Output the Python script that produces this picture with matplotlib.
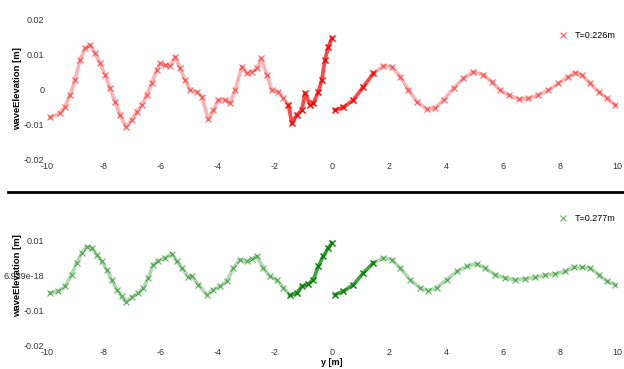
import matplotlib.pyplot as plt
import numpy as np
from matplotlib.lines import Line2D

plt.rcParams['font.family'] = ['Liberation Sans', 'DejaVu Sans']

# top panel, T=0.226m (left of x=0 and right of x=0)
top_lx = [-9.89, -9.54, -9.37, -9.19, -9.02, -8.84, -8.67, -8.49, -8.32, -8.14, -7.96, -7.79,
          -7.61, -7.44, -7.23, -7.03, -6.85, -6.68, -6.5, -6.33, -6.15, -6.04, -5.86, -5.68,
          -5.51, -5.33, -5.16, -4.98, -4.75, -4.57, -4.34, -4.16, -3.99, -3.75, -3.58, -3.4,
          -3.17, -3.0, -2.82, -2.64, -2.49, -2.29, -2.12, -1.88, -1.71, -1.53, -1.41, -1.24,
          -1.06, -0.95, -0.77, -0.66, -0.48, -0.36, -0.25, -0.13, -0.01]
top_ly = [-0.0081, -0.0069, -0.0051, -0.0017, 0.0026, 0.0083, 0.0116, 0.0126, 0.0102, 0.0073,
          0.004, 0.0002, -0.0036, -0.0074, -0.0108, -0.0089, -0.0065, -0.0046, -0.0017, 0.0016,
          0.0054, 0.0073, 0.0069, 0.0066, 0.0092, 0.0059, 0.0026, -0.0003, -0.0008, -0.0022,
          -0.0087, -0.006, -0.0031, -0.0031, -0.0041, -0.0003, 0.0064, 0.0045, 0.0049, 0.0059,
          0.0088, 0.004, -0.0003, -0.0008, -0.0027, -0.0046, -0.0098, -0.0074, -0.006, -0.0012,
          -0.0046, -0.0041, -0.0008, 0.0026, 0.0083, 0.0121, 0.0145]
top_rx = [0.1, 0.4, 0.75, 1.1, 1.45, 1.8, 2.09, 2.39, 2.68, 2.97, 3.32, 3.61, 3.91, 4.26, 4.61,
          4.96, 5.31, 5.6, 5.89, 6.19, 6.54, 6.89, 7.24, 7.59, 7.94, 8.29, 8.53, 8.76, 9.05,
          9.35, 9.64, 9.93]
top_ry = [-0.006, -0.0052, -0.0031, 0.0007, 0.0045, 0.0066, 0.0064, 0.0035, -0.0003, -0.0036,
          -0.0058, -0.0055, -0.0031, 0.0002, 0.0031, 0.0049, 0.004, 0.0021, -0.0003, -0.0017,
          -0.0029, -0.0027, -0.0017, -0.0003, 0.0016, 0.0035, 0.0047, 0.004, 0.0016, -0.0008,
          -0.0027, -0.0046]

# bottom panel, T=0.277m
bot_lx = [-9.89, -9.6, -9.37, -9.14, -8.96, -8.78, -8.61, -8.43, -8.26, -8.08, -7.9, -7.73,
          -7.55, -7.38, -7.23, -7.03, -6.8, -6.62, -6.45, -6.27, -6.09, -5.86, -5.63, -5.45,
          -5.27, -5.04, -4.92, -4.69, -4.4, -4.16, -3.93, -3.69, -3.46, -3.23, -2.99, -2.82,
          -2.64, -2.41, -2.18, -1.94, -1.71, -1.47, -1.24, -1.06, -0.83, -0.66, -0.48, -0.31,
          -0.13, -0.01]
bot_ly = [-0.005, -0.0045, -0.0031, 0.0003, 0.0037, 0.0065, 0.0084, 0.008, 0.006, 0.0041,
          0.0017, -0.0012, -0.004, -0.006, -0.0076, -0.0062, -0.005, -0.0036, -0.0007, 0.0032,
          0.0043, 0.0051, 0.0063, 0.0041, 0.0022, -0.0004, -0.0002, -0.0026, -0.0055, -0.004,
          -0.0031, -0.0016, 0.0022, 0.0046, 0.0041, 0.0048, 0.0056, 0.0022, -0.0002, -0.0012,
          -0.0035, -0.0057, -0.005, -0.0031, -0.0024, -0.0012, 0.0027, 0.0056, 0.008, 0.0094]
bot_rx = [0.1, 0.4, 0.75, 1.1, 1.45, 1.8, 2.09, 2.39, 2.74, 3.09, 3.38, 3.67, 4.02, 4.38, 4.73,
          5.08, 5.37, 5.72, 6.07, 6.42, 6.77, 7.12, 7.47, 7.82, 8.18, 8.47, 8.76, 9.05, 9.35,
          9.64, 9.93]
bot_ry = [-0.0055, -0.0045, -0.0026, 0.0008, 0.0037, 0.0051, 0.0046, 0.0022, -0.0012, -0.0035,
          -0.0043, -0.0035, -0.0012, 0.0012, 0.0027, 0.0034, 0.0022, 0.0003, -0.0007, -0.0012,
          -0.0009, -0.0005, 0.0001, 0.0005, 0.0012, 0.0024, 0.0024, 0.0022, 0.0003, -0.0016,
          -0.0026]

xticks = [-10, -8, -6, -4, -2, 0, 2, 4, 6, 8, 10]
top_yticks = [-0.02, -0.01, 0, 0.01, 0.02]
top_ylabels = ['-0.02', '-0.01', '0', '0.01', '0.02']
bot_yticks = [-0.02, -0.01, 0, 0.01]
bot_ylabels = ['-0.02', '-0.01', '6.939e-18', '0.01']

fig = plt.figure(figsize=(6.24, 3.69), dpi=100)
ax1 = fig.add_axes([0.0753, 0.569, 0.9137, 0.3795])
ax2 = fig.add_axes([0.0753, 0.065, 0.9137, 0.376])

def style(ax, yt, ylab):
    for s in ax.spines.values():
        s.set_visible(False)
    ax.set_xlim(-10, 10)
    ax.set_ylim(-0.02, 0.02)
    ax.set_xticks(xticks)
    ax.set_xticklabels([str(t) for t in xticks])
    ax.set_yticks(yt)
    ax.set_yticklabels(ylab)
    ax.tick_params(length=0, labelsize=6.5, colors='#333333', pad=2)
    ax.set_ylabel('waveElevation [m]', fontsize=6.8, fontweight='bold')
    ax.yaxis.set_label_coords(-0.044, 0.5)

def draw(ax, xs, ys, col):
    xs = np.array(xs)
    ys = np.array(ys)
    ax.plot(xs, ys, '-', color=col, lw=2.6, alpha=0.3)
    ax.plot(xs, ys, 'x', color=col, ms=4.5, mew=0.9, alpha=0.55)
    # the samples crowd together close to x=0
    near = np.abs(xs) < 1.6
    ax.plot(xs[near], ys[near], '-', color=col, lw=2.6, alpha=0.6)
    ax.plot(xs[near], ys[near], 'x', color=col, ms=5, mew=1.0, alpha=0.8)

style(ax1, top_yticks, top_ylabels)
draw(ax1, top_lx, top_ly, 'red')
draw(ax1, top_rx, top_ry, 'red')
ax1.legend(handles=[Line2D([], [], ls='none', marker='x', color='red', ms=4.5, mew=0.9, alpha=0.55,
                           label='T=0.226m')],
           loc='upper right', frameon=False, fontsize=6.5, handletextpad=0.3,
           bbox_to_anchor=(1.012, 0.97))

style(ax2, bot_yticks, bot_ylabels)
draw(ax2, bot_lx, bot_ly, 'green')
draw(ax2, bot_rx, bot_ry, 'green')
ax2.legend(handles=[Line2D([], [], ls='none', marker='x', color='green', ms=4.5, mew=0.9, alpha=0.55,
                           label='T=0.277m')],
           loc='upper right', frameon=False, fontsize=6.5, handletextpad=0.3,
           bbox_to_anchor=(1.012, 1.0))
ax2.set_xlabel('y [m]', fontsize=6.5, fontweight='bold', labelpad=1)

# separator between the two plots
fig.add_artist(Line2D([0.013, 1.0], [0.48, 0.48], color='black', lw=2))

fig.savefig('out.png', dpi=100)
